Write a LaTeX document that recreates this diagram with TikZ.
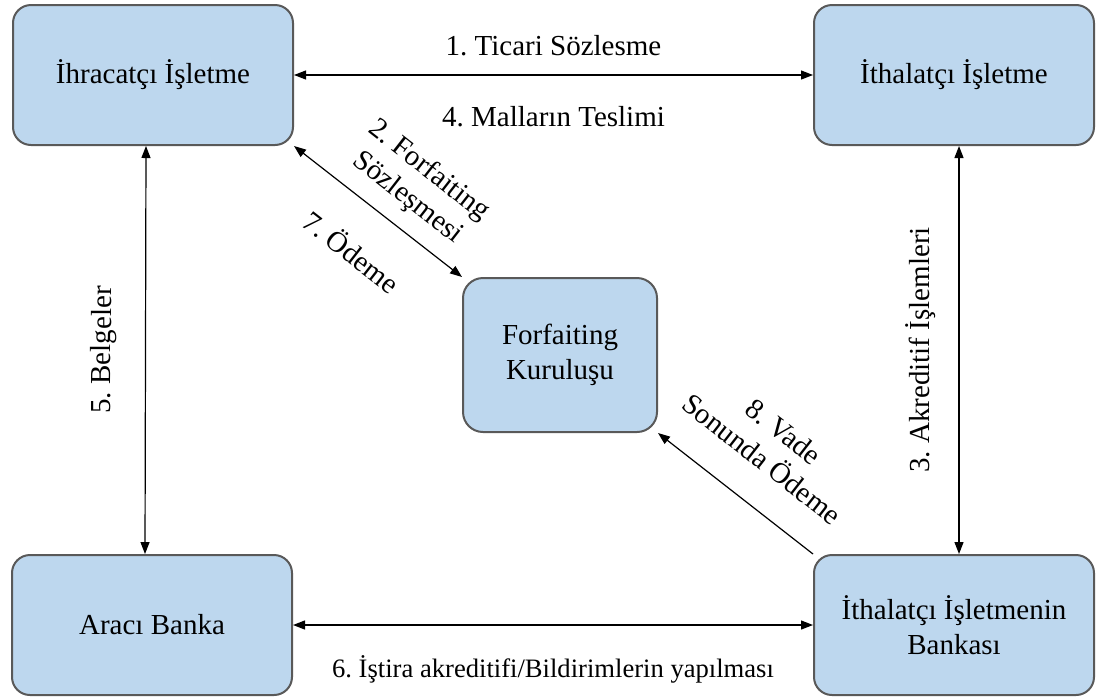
\documentclass[tikz,border=0pt]{standalone}
\usepackage{fontspec}
\setmainfont{Liberation Serif}
\usetikzlibrary{arrows.meta}
\definecolor{boxfill}{HTML}{BDD7EE}
\definecolor{boxline}{HTML}{595959}
\frenchspacing
\tikzset{
  partybox/.style= {
    rectangle,
    rounded corners = 9pt,
    draw = boxline,
    fill = boxfill,
    line width = 1pt,
    align = center,
    minimum width = 140pt,
    minimum height = 70pt,
    font = \fontsize{14.5}{17.4}\selectfont
  },
  twoway/.style= {
    line width = 0.6pt,
    <->
  },
  oneway/.style= {
    line width = 0.6pt,
    <-
  },
  steplabel/.style= {
    font = \fontsize{14.5}{17.4}\selectfont,
    align = center,
    sloped
  }
}
\begin{document}
\begin{tikzpicture}[x=0.5pt,y=-0.5pt,>={Triangle[length=6pt,width=4.5pt]}]
  \useasboundingbox (0,0) rectangle (1096,697);

  \node[partybox] (exp) at (153,75) {İhracatçı İşletme};
  \node[partybox] (imp) at (954,75) {İthalatçı İşletme};
  \node[partybox] (bank) at (152,625) {Aracı Banka};
  \node[partybox] (impbank) at (954,625) {İthalatçı İşletmenin\\Bankası};
  \node[partybox,rounded corners=10pt,minimum width=97pt,minimum height=77pt] (forf) at (560,355) {Forfaiting\\Kuruluşu};

  \draw[twoway] (exp) -- node[steplabel,above=6pt]{1. Ticari Sözlesme}
    node[steplabel,below=12pt]{4. Malların Teslimi} (imp);
  \draw[twoway] ([xshift=-3.5pt]bank.north) -- node[steplabel,above=10.5pt]{5. Belgeler} ([xshift=-3.5pt]exp.south);
  \draw[twoway] ([xshift=2.5pt]impbank.north) -- node[steplabel,above=8pt]{3. Akreditif İşlemleri} ([xshift=2.5pt]imp.south);
  \draw[twoway] (bank) -- node[steplabel,below=11.5pt,font=\fontsize{13.3}{16}\selectfont]{6. İştira akreditifi/Bildirimlerin yapılması} (impbank);

  \draw[twoway] (exp.south east) -- node[steplabel,pos=0.57,above=4pt]{2. Forfaiting\\Sözleşmesi}
    node[steplabel,pos=0.52,below=14pt]{7. Ödeme} (forf.north west);
  \draw[oneway] (forf.south east) -- node[steplabel,above=13pt]{8. Vade\\Sonunda Ödeme} (impbank.north west);
\end{tikzpicture}
\end{document}
